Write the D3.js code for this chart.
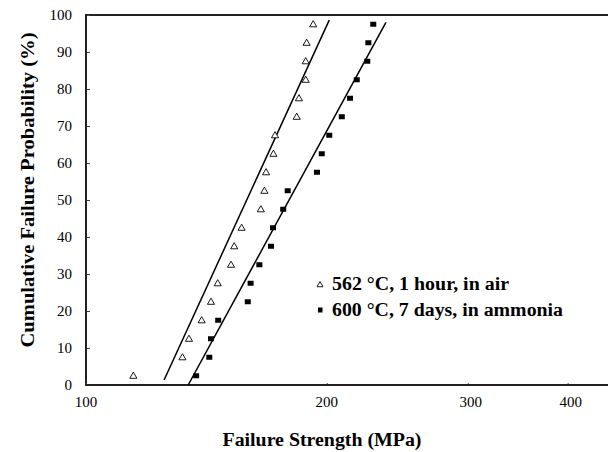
<!DOCTYPE html>
<html><head><meta charset="utf-8">
<script src="https://cdn.jsdelivr.net/npm/d3@7"></script>
<style>body{margin:0;background:#fff}svg{display:block}</style>
</head><body>
<script>
// Data
const probabilities = [2.5,7.5,12.5,17.5,22.5,27.5,32.5,37.5,42.5,47.5,52.5,57.5,62.5,67.5,72.5,77.5,82.5,87.5,92.5,97.5];
const strengthAir = [114.6,132.0,134.5,139.5,143.3,146.1,151.8,153.2,156.5,165.4,167.1,167.9,171.5,172.3,183.4,184.6,188.2,188.2,188.7,192.3];
const strengthAmmonia = [137.3,142.6,143.3,146.3,159.3,160.6,164.7,170.3,171.3,176.4,178.7,194.4,197.1,201.4,208.8,213.8,218.0,224.7,225.4,228.6];
const fitAir = [[125.2,1.35],[201.4,98.6]];
const fitAmmonia = [[134.2,0],[237.1,98.0]];
const seriesNames = ["562 °C, 1 hour, in air","600 °C, 7 days, in ammonia"];
const xTicks = [100,200,300,400];
const yTicks = [0,10,20,30,40,50,60,70,80,90,100];

const W=608,H=452;
const svg=d3.select("body").append("svg").attr("width",W).attr("height",H);
const x=d3.scaleLog().domain([100,1000]).range([86,886]);
const y=d3.scaleLinear().domain([0,100]).range([385,15]);
const serif="'Liberation Serif','Times New Roman',serif";

// frame lines
svg.append("line").attr("x1",86).attr("x2",W).attr("y1",y(100)).attr("y2",y(100)).attr("stroke","#222").attr("stroke-width",2);

// y axis
const ya=svg.append("g").attr("transform","translate(86,0)")
  .call(d3.axisRight(y).tickValues(yTicks).tickSize(4).tickFormat(""));
ya.select(".domain").remove();
ya.selectAll(".tick line").attr("stroke","#444").attr("stroke-width",1);
svg.append("line").attr("x1",86).attr("x2",86).attr("y1",y(100)-1).attr("y2",y(0)+1).attr("stroke","#222").attr("stroke-width",2);
svg.append("g").selectAll("text").data(yTicks).join("text")
  .attr("x",72).attr("y",d=>y(d)+5).attr("text-anchor","end")
  .attr("font-family",serif).attr("font-size",15).text(d=>d);

// x axis
const xa=svg.append("g").attr("transform","translate(0,"+y(0)+")")
  .call(d3.axisTop(x).tickValues(xTicks).tickSize(2).tickFormat(""));
xa.select(".domain").remove();
xa.selectAll(".tick line").attr("stroke","#555").attr("stroke-width",1);
svg.append("line").attr("x1",85).attr("x2",W).attr("y1",y(0)).attr("y2",y(0)).attr("stroke","#222").attr("stroke-width",2);
svg.append("g").selectAll("text").data(xTicks).join("text")
  .attr("x",d=>x(d)+(d>200?3:0)).attr("y",407).attr("text-anchor","middle")
  .attr("font-family",serif).attr("font-size",15).text(d=>d);

// titles
svg.append("text").attr("x",322).attr("y",446).attr("text-anchor","middle")
  .attr("font-family",serif).attr("font-weight","bold").attr("font-size",18.5)
  .attr("textLength",199).attr("lengthAdjust","spacingAndGlyphs").text("Failure Strength (MPa)");
svg.append("text").attr("transform","translate(34,190) rotate(-90)").attr("text-anchor","middle")
  .attr("font-family",serif).attr("font-weight","bold").attr("font-size",18.5)
  .attr("textLength",315).attr("lengthAdjust","spacingAndGlyphs").text("Cumulative Failure Probability (%)");

// fit lines
const line=d3.line().x(d=>x(d[0])).y(d=>y(d[1]));
[fitAir,fitAmmonia].forEach(f=>{
  svg.append("path").attr("d",line(f)).attr("fill","none").attr("stroke","#000").attr("stroke-width",1.5);
});

// markers
const tri=d3.symbol().type(d3.symbolTriangle).size(22);
svg.append("g").selectAll("path").data(probabilities.map((p,i)=>[strengthAir[i],p])).join("path")
  .attr("d",tri).attr("transform",d=>`translate(${x(d[0])},${y(d[1])+0.5})`)
  .attr("fill","#fff").attr("stroke","#000").attr("stroke-width",0.9);
svg.append("g").selectAll("rect").data(probabilities.map((p,i)=>[strengthAmmonia[i],p])).join("rect")
  .attr("x",d=>x(d[0])-3).attr("y",d=>y(d[1])-2.5).attr("width",6).attr("height",5).attr("fill","#000");

// legend
const legendWidths=[177,231];
const lg=svg.append("g");
lg.append("path").attr("d",d3.symbol().type(d3.symbolTriangle).size(16)).attr("transform","translate(320,285)")
  .attr("fill","#fff").attr("stroke","#000").attr("stroke-width",0.9);
lg.append("rect").attr("x",318).attr("y",307.5).attr("width",4.5).attr("height",5).attr("fill","#000");
lg.selectAll("text").data(seriesNames).join("text")
  .attr("x",332).attr("y",(d,i)=>290+i*26).attr("font-family",serif).attr("font-weight","bold").attr("font-size",18)
  .attr("textLength",(d,i)=>legendWidths[i]).attr("lengthAdjust","spacingAndGlyphs")
  .text(d=>d);
</script>
</body></html>
